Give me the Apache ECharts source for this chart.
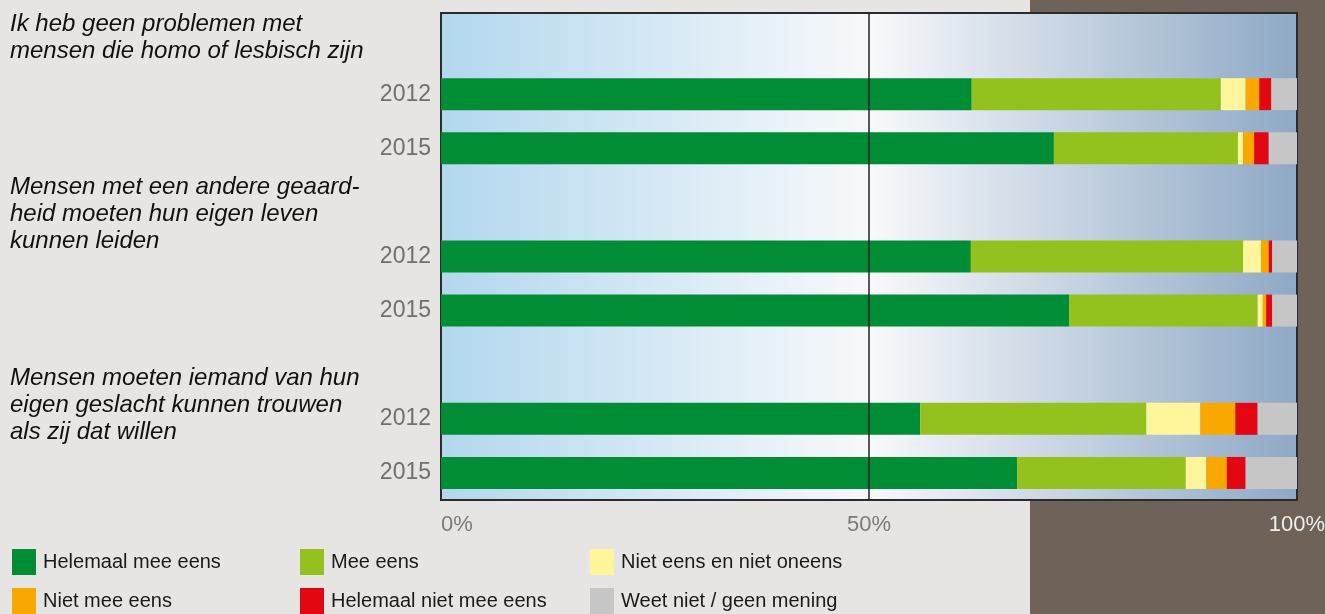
<!DOCTYPE html>
<html>
<head>
<meta charset="utf-8">
<script src="https://cdn.jsdelivr.net/npm/echarts@6/dist/echarts.min.js"></script>
<style>
    html, body { margin: 0; padding: 0; background: #e6e5e3; }
    #chart { width: 1325px; height: 614px; }
</style>
</head>
<body>
<div id="chart"></div>
<script>
// vragen (groepen) en jaren
const questions = [
    'Ik heb geen problemen met\nmensen die homo of lesbisch zijn',
    'Mensen met een andere geaard-\nheid moeten hun eigen leven\nkunnen leiden',
    'Mensen moeten iemand van hun\neigen geslacht kunnen trouwen\nals zij dat willen'
];
const years = ['2012', '2015'];
const xTicks = ['0%', '50%', '100%'];

// percentages per balk (volgorde: vraag1 2012, vraag1 2015, vraag2 2012, ...)
const helemaalEens = [62.0, 71.6, 61.9, 73.4, 56.0, 67.3];
const meeEens = [29.1, 21.5, 31.8, 22.0, 26.4, 19.7];
const neutraal = [2.9, 0.6, 2.1, 0.6, 6.3, 2.4];
const nietEens = [1.6, 1.3, 0.9, 0.4, 4.1, 2.4];
const helemaalNiet = [1.4, 1.7, 0.4, 0.7, 2.6, 2.2];
const weetNiet = [3.0, 3.3, 2.9, 2.9, 4.6, 6.0];

const names = ['Helemaal mee eens', 'Mee eens', 'Niet eens en niet oneens',
    'Niet mee eens', 'Helemaal niet mee eens', 'Weet niet / geen mening'];
const colors = ['#008d36', '#95c11f', '#fff59b', '#f8a800', '#e30613', '#c6c6c6'];

// categorie-as: per vraag een lege regel en daarna de jaren
let cats = [];
questions.forEach((q, i) => {
    cats.push('q' + i + '|');
    years.forEach(y => cats.push('q' + i + '|' + y));
});

function spread(values) {
    let out = [];
    let k = 0;
    questions.forEach(() => {
        out.push('-');
        years.forEach(() => out.push(values[k++]));
    });
    return out;
}

const allData = [helemaalEens, meeEens, neutraal, nietEens, helemaalNiet, weetNiet];

let myChart = echarts.init(document.getElementById('chart'));

const series = names.map((n, i) => {
    let s = {
        name: n,
        type: 'bar',
        stack: 'totaal',
        barWidth: 32,
        itemStyle: { color: colors[i] },
        data: spread(allData[i])
    };
    if (i === names.length - 1) {
        s.markLine = {
            silent: true,
            symbol: 'none',
            label: { show: false },
            lineStyle: { color: '#222', width: 1.5, type: 'solid' },
            data: [{ xAxis: 50 }]
        };
    }
    return s;
});

// legenda: 2 rijen van 3
const legendPos = [[12, 549], [300, 549], [590, 549], [12, 588], [300, 588], [590, 588]];
const legends = names.map((n, i) => ({
    data: [n],
    left: legendPos[i][0],
    top: legendPos[i][1],
    padding: 0,
    icon: 'rect',
    itemWidth: 24,
    itemHeight: 26,
    itemGap: 8,
    selectedMode: false,
    textStyle: { color: '#1a1a1a', fontSize: 20, fontFamily: 'Liberation Sans', padding: [0, 0, 0, 2] }
}));

const groupTops = [11, 174, 365];
const graphics = [{
    type: 'rect',
    z: -10,
    silent: true,
    shape: { x: 1030, y: 0, width: 295, height: 614 },
    style: { fill: '#6e6259' }
}].concat(questions.map((q, i) => ({
    type: 'text',
    left: 10,
    top: groupTops[i],
    silent: true,
    style: {
        text: q,
        fill: '#111',
        font: 'italic 24px "Liberation Sans"',
        lineHeight: 27
    }
})));

let option = {
    backgroundColor: '#e6e5e3',
    animation: false,
    legend: legends,
    graphic: graphics,
    grid: {
        left: 441,
        right: 28,
        top: 13,
        bottom: 114,
        outerBoundsMode: 'none',
        show: true,
        borderColor: '#2b2b2b',
        borderWidth: 2,
        backgroundColor: {
            type: 'linear', x: 0, y: 0, x2: 1, y2: 0,
            colorStops: [
                { offset: 0, color: '#b2d7ee' },
                { offset: 0.5, color: '#f8f9fb' },
                { offset: 1, color: '#8ea8c5' }
            ]
        }
    },
    xAxis: {
        type: 'value',
        min: 0,
        max: 100,
        interval: 50,
        axisLine: { show: false },
        axisTick: { show: false },
        splitLine: { show: false },
        axisLabel: {
            margin: 14,
            fontSize: 22,
            fontFamily: 'Liberation Sans',
            alignMinLabel: 'left',
            color: '#7a7a7a',
            formatter: (v) => v === 100 ? '{w|' + xTicks[2] + '}' : xTicks[v / 50],
            rich: {
                w: { color: '#f0eeec', fontSize: 22, fontFamily: 'Liberation Sans' }
            }
        }
    },
    yAxis: {
        type: 'category',
        inverse: true,
        data: cats,
        axisLine: { show: false },
        axisTick: { show: false },
        axisLabel: {
            margin: 10,
            fontSize: 23,
            color: '#6f6f6f',
            fontFamily: 'Liberation Sans',
            formatter: (v) => v.split('|')[1]
        }
    },
    series: series
};
myChart.setOption(option);
</script>
</body>
</html>
